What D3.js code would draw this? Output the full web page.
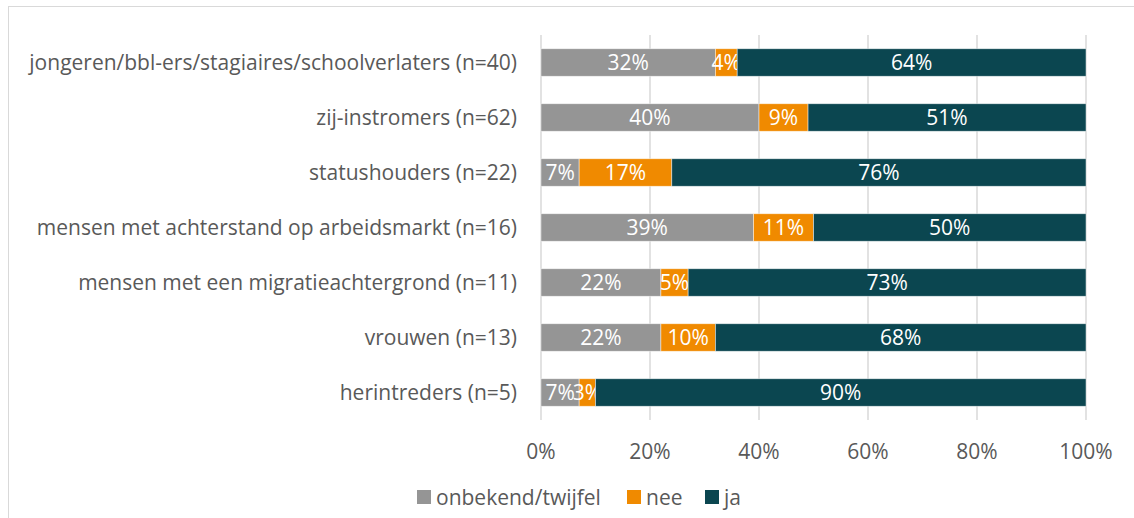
<!DOCTYPE html>
<html>
<head>
<meta charset="utf-8">
<script src="https://cdn.jsdelivr.net/npm/d3@7"></script>
<style>
  body { margin: 0; background: #fff; }
  svg text { font-family: "Open Sans", "Noto Sans", sans-serif; }
</style>
</head>
<body>
<svg id="chart" width="1134" height="518"></svg>
<script>
// categories top to bottom
const categories = [
    "jongeren/bbl-ers/stagiaires/schoolverlaters (n=40)",
    "zij-instromers (n=62)",
    "statushouders (n=22)",
    "mensen met achterstand op arbeidsmarkt (n=16)",
    "mensen met een migratieachtergrond (n=11)",
    "vrouwen (n=13)",
    "herintreders (n=5)"
];
const seriesNames = ["onbekend/twijfel", "nee", "ja"];
const onbekend = [32, 40, 7, 39, 22, 22, 7];
const nee = [4, 9, 17, 11, 5, 10, 3];
const ja = [64, 51, 76, 50, 73, 68, 90];
const tickValues = [0, 20, 40, 60, 80, 100];

const colors = ["#959595", "#f08a00", "#0b4650"];
const fontSize = 21;

const svg = d3.select("#chart");

// outer frame
svg.append("rect")
    .attr("x", 8.5).attr("y", 6.5)
    .attr("width", 1140).attr("height", 530)
    .attr("fill", "none")
    .attr("stroke", "#d9d9d9")
    .attr("stroke-width", 1);

const x = d3.scaleLinear().domain([0, 100]).range([541, 1086]);
const y = d3.scaleBand().domain(categories).range([35, 420]).paddingInner(0.5).paddingOuter(0.25);

// gridlines
svg.append("g")
    .selectAll("line")
    .data(tickValues)
    .join("line")
    .attr("x1", d => x(d)).attr("x2", d => x(d))
    .attr("y1", 35).attr("y2", 420)
    .attr("stroke", "#d9d9d9")
    .attr("stroke-width", 1.5);

// stacked data
const rows = categories.map((c, i) => ({cat: c, onbekend: onbekend[i], nee: nee[i], ja: ja[i]}));
const stack = d3.stack().keys(["onbekend", "nee", "ja"])(rows);

const layers = svg.append("g")
    .selectAll("g")
    .data(stack)
    .join("g")
    .attr("fill", (d, i) => colors[i]);

layers.selectAll("rect")
    .data(d => d)
    .join("rect")
    .attr("x", d => x(d[0]))
    .attr("y", d => y(d.data.cat))
    .attr("width", d => x(d[1]) - x(d[0]))
    .attr("height", y.bandwidth())
    .attr("stroke", "#ffffff")
    .attr("stroke-opacity", 0.6)
    .attr("stroke-width", 0.75);

layers.selectAll("text")
    .data(d => d)
    .join("text")
    .attr("x", d => (x(d[0]) + x(d[1])) / 2)
    .attr("y", d => y(d.data.cat) + y.bandwidth() / 2)
    .attr("dy", "0.36em")
    .attr("text-anchor", "middle")
    .attr("fill", "#ffffff")
    .attr("font-size", fontSize)
    .text(d => (d[1] - d[0]) + "%");

// category labels
svg.append("g")
    .selectAll("text")
    .data(categories)
    .join("text")
    .attr("x", 517)
    .attr("y", d => y(d) + y.bandwidth() / 2)
    .attr("dy", "0.36em")
    .attr("text-anchor", "end")
    .attr("fill", "#595959")
    .attr("font-size", fontSize)
    .text(d => d);

// x axis labels
svg.append("g")
    .selectAll("text")
    .data(tickValues)
    .join("text")
    .attr("x", d => x(d))
    .attr("y", 451)
    .attr("dy", "0.36em")
    .attr("text-anchor", "middle")
    .attr("fill", "#595959")
    .attr("font-size", fontSize)
    .text(d => d + "%");

// legend
const legendX = [417, 627, 705];
const legend = svg.append("g")
    .selectAll("g")
    .data(seriesNames)
    .join("g")
    .attr("transform", (d, i) => `translate(${legendX[i]},497)`);
legend.append("rect")
    .attr("x", 0).attr("y", -7)
    .attr("width", 14).attr("height", 14)
    .attr("fill", (d, i) => colors[i]);
legend.append("text")
    .attr("x", 19)
    .attr("dy", "0.36em")
    .attr("fill", "#595959")
    .attr("font-size", fontSize)
    .text(d => d);
</script>
</body>
</html>
